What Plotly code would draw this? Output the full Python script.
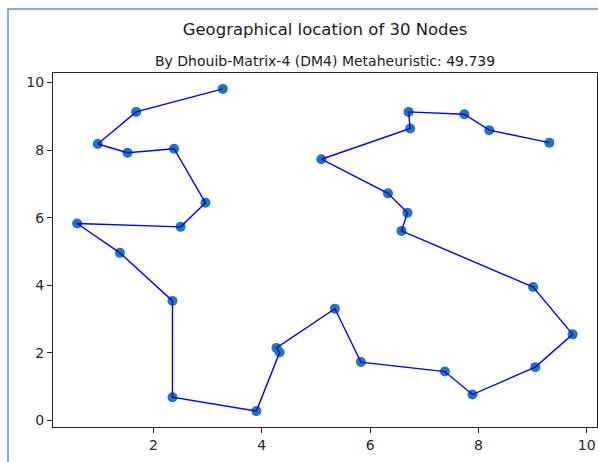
import plotly.graph_objects as go

# Tour order of the 30 nodes (open path)
x_nodes = [3.28, 1.68, 0.97, 1.52, 2.38, 2.96, 2.50, 0.59, 1.38, 2.35,
           2.35, 3.90, 4.33, 4.27, 5.35, 5.83, 7.38, 7.89, 9.05, 9.74,
           9.01, 6.58, 6.69, 6.33, 5.10, 6.74, 6.71, 7.74, 8.20, 9.31]
y_nodes = [9.81, 9.13, 8.18, 7.92, 8.04, 6.44, 5.73, 5.83, 4.96, 3.54,
           0.69, 0.28, 2.02, 2.15, 3.31, 1.73, 1.45, 0.77, 1.58, 2.55,
           3.95, 5.61, 6.15, 6.72, 7.73, 8.64, 9.13, 9.06, 8.59, 8.22]

x_ticks = [2, 4, 6, 8, 10]
y_ticks = [0, 2, 4, 6, 8, 10]

title_text = "Geographical location of 30 Nodes"
subtitle_text = "By Dhouib-Matrix-4 (DM4) Metaheuristic: 49.739"

fig = go.Figure()
fig.add_trace(go.Scatter(x=x_nodes, y=y_nodes, mode="markers",
                         marker=dict(color="#1f77b4", size=10), showlegend=False))
fig.add_trace(go.Scatter(x=x_nodes, y=y_nodes, mode="lines",
                         line=dict(color="#0000ff", width=1.4), showlegend=False))

axis_common = dict(showgrid=False, zeroline=False, showline=True, mirror=True,
                   linecolor="#222", linewidth=1, ticks="outside", ticklen=5,
                   tickwidth=1, tickcolor="#222",
                   tickfont=dict(family="DejaVu Sans", size=14, color="#262626"))

fig.update_xaxes(range=[0.144, 10.19], tickvals=x_ticks, **axis_common)
fig.update_yaxes(range=[-0.19, 10.28], tickvals=y_ticks, **axis_common)

fig.update_layout(
    width=598, height=462,
    margin=dict(l=53, r=1, t=73, b=35),
    plot_bgcolor="white", paper_bgcolor="white",
    title=dict(text=title_text, x=(53 + 597) / 2 / 598, xanchor="center",
               y=1 - 29 / 462, yanchor="middle",
               font=dict(family="DejaVu Sans", size=16.5, color="#1a1a1a")),
    annotations=[dict(text=subtitle_text, xref="paper", yref="paper",
                      x=0.5, y=1, xanchor="center", yanchor="middle",
                      yshift=12.5, showarrow=False,
                      font=dict(family="DejaVu Sans", size=14, color="#1a1a1a"))],
    shapes=[dict(type="rect", xref="paper", yref="paper",
                 x0=(8 - 53) / 544, x1=1.2, y0=-0.3, y1=(427 - 9) / 354,
                 line=dict(color="#5b8ee6", width=1.5), layer="below")],
)

fig.write_html("out.html", config={"displayModeBar": False},
               post_script="document.body.style.margin='0px';document.body.style.overflow='hidden';")
